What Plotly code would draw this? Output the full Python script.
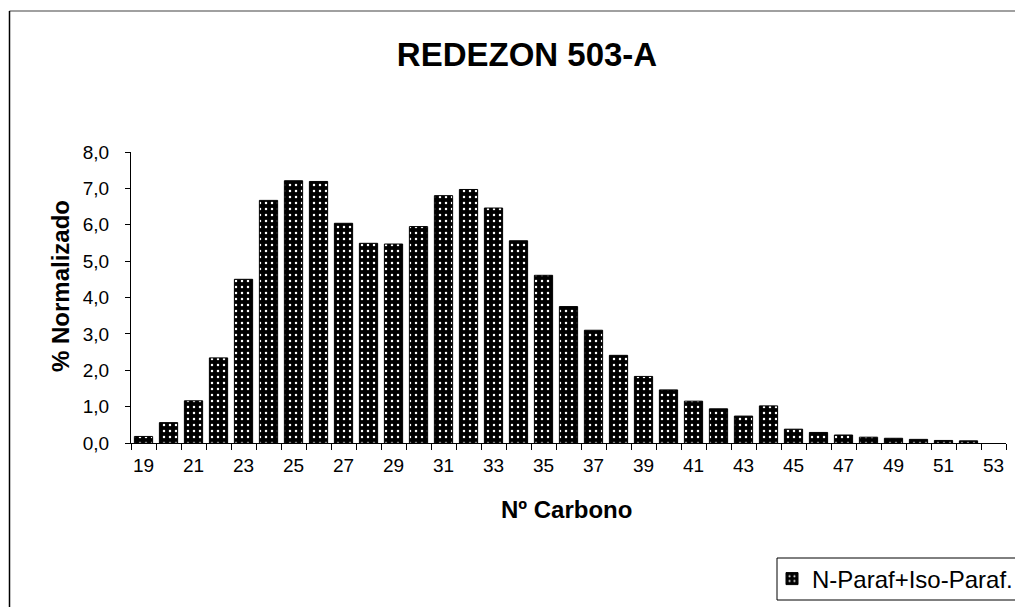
import plotly.graph_objects as go

carbons = list(range(19, 54))
values = [0.18, 0.56, 1.16, 2.34, 4.50, 6.67, 7.21, 7.19, 6.04, 5.49,
          5.47, 5.95, 6.80, 6.97, 6.46, 5.56, 4.61, 3.75, 3.10, 2.41,
          1.83, 1.46, 1.15, 0.94, 0.74, 1.02, 0.38, 0.29, 0.22, 0.16,
          0.13, 0.10, 0.07, 0.06, None]
tick_labels = [str(c) for c in carbons[::2]]
series_name = "N-Paraf+Iso-Paraf."
title_text = "REDEZON 503-A"
x_title = "Nº Carbono"
y_title = "% Normalizado"

# page has an 8px body margin; figure coordinates = screen - 8
OFF = 8
W, H = 1015, 599
L, R, T, B = 123, 17, 144, 164
FONT = "Arial, Liberation Sans, sans-serif"

fig = go.Figure()
fig.add_trace(go.Bar(
    x=carbons, y=values, name=series_name, width=0.73,
    marker=dict(color="black", line=dict(color="black", width=1),
                pattern=dict(shape=".", fgcolor="white", bgcolor="black",
                             size=6, solidity=0.14, fillmode="replace")),
    showlegend=True,
))

pw, ph = W - L - R, H - T - B
def px(x): return (x - OFF - L) / pw
def py(y): return 1 - (y - OFF - T) / ph

fig.update_layout(
    width=W, height=H,
    margin=dict(l=L, r=R, t=T, b=B, autoexpand=False),
    paper_bgcolor="white", plot_bgcolor="white",
    separators=",.",
    font=dict(family=FONT, color="black", size=19),
    title=dict(text="<b>" + title_text + "</b>", x=(527 - OFF) / W, y=1 - (54 - OFF) / H,
               xanchor="center", yanchor="middle",
               font=dict(size=33, family=FONT, color="black")),
    xaxis=dict(range=[18.5, 53.5], tickmode="array", tickvals=carbons[::2],
               ticktext=tick_labels, ticks="", showgrid=False, zeroline=False,
               showline=True, linecolor="black", linewidth=1,
               tickfont=dict(size=19), ticklabelstandoff=5,
               minor=dict(tickmode="array", tickvals=[c - 0.5 for c in carbons] + [carbons[-1] + 0.5],
                          ticks="outside", ticklen=6, tickcolor="black", tickwidth=1)),
    yaxis=dict(range=[0, 8], dtick=1, tickformat=".1f", ticks="outside",
               ticklen=5, tickcolor="black", showgrid=False, zeroline=False,
               showline=True, linecolor="black", linewidth=1,
               tickfont=dict(size=19), ticklabelstandoff=12),
    annotations=[
        dict(text="<b>" + x_title + "</b>", xref="paper", yref="paper",
             x=px(566), y=py(509), xanchor="center", yanchor="middle",
             showarrow=False, font=dict(size=24)),
        dict(text="<b>" + y_title + "</b>", xref="paper", yref="paper",
             x=px(60), y=py(286), xanchor="center", yanchor="middle",
             textangle=-90, showarrow=False, font=dict(size=24)),
    ],
    legend=dict(x=px(772), y=py(579), xanchor="left", yanchor="middle",
                bgcolor="rgba(0,0,0,0)", borderwidth=0,
                font=dict(size=24), itemwidth=30),
    bargap=0.27,
    shapes=[
        dict(type="line", xref="paper", yref="paper", x0=px(9.5), x1=px(1060),
             y0=py(11), y1=py(11), line=dict(color="#808080", width=1.5)),
        dict(type="line", xref="paper", yref="paper", x0=px(9.5), x1=px(9.5),
             y0=py(11), y1=py(640), line=dict(color="black", width=1.5)),
        dict(type="rect", xref="paper", yref="paper", x0=px(777), x1=px(1060),
             y0=py(558), y1=py(600), line=dict(color="black", width=1),
             fillcolor="rgba(0,0,0,0)"),
    ],
)

fig.write_html("out.html")
